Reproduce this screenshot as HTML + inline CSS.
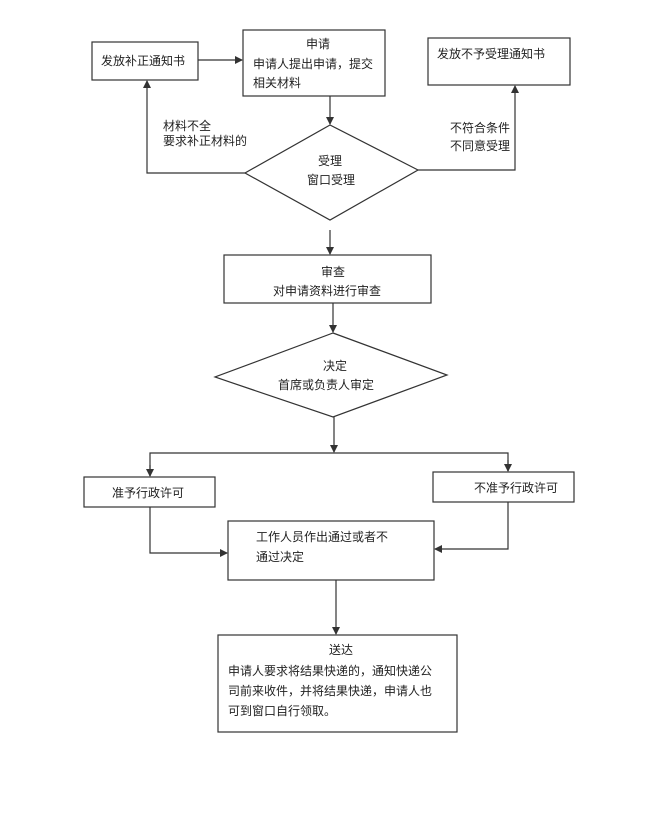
<!DOCTYPE html>
<html><head><meta charset="utf-8"><style>
html,body{margin:0;padding:0;background:#fff;}
svg{display:block}
text{font-family:"Liberation Sans","Noto Sans CJK SC",sans-serif;font-size:12px;fill:#222;}
</style></head><body>
<svg width="648" height="819" viewBox="0 0 648 819" xmlns="http://www.w3.org/2000/svg">
<defs><marker id="a" markerWidth="8" markerHeight="8" refX="7" refY="4" orient="auto" markerUnits="userSpaceOnUse"><path d="M0,0 L8,4 L0,8 Z" fill="#333"/></marker></defs>
<g fill="none" stroke="#333" stroke-width="1.2">
<rect x="92" y="42" width="106" height="38"/>
<rect x="243" y="30" width="142" height="66"/>
<rect x="428" y="38" width="142" height="47"/>
<polygon points="330,125 418,170 330,220 245,173"/>
<line x1="198" y1="60" x2="242" y2="60" marker-end="url(#a)"/>
<line x1="330" y1="96" x2="330" y2="124" marker-end="url(#a)"/>
<polyline points="245,173 147,173 147,81" marker-end="url(#a)"/>
<polyline points="418,170 515,170 515,86" marker-end="url(#a)"/>
<line x1="330" y1="230" x2="330" y2="254" marker-end="url(#a)"/>
<rect x="224" y="255" width="207" height="48"/>
<line x1="333" y1="303" x2="333" y2="332" marker-end="url(#a)"/>
<polygon points="333,333 447,375 333,417 215,377"/>
<line x1="334" y1="417" x2="334" y2="452" marker-end="url(#a)"/>
<polyline points="150,476 150,453 508,453 508,471"/>
<line x1="150" y1="465" x2="150" y2="476" marker-end="url(#a)"/>
<line x1="508" y1="460" x2="508" y2="471" marker-end="url(#a)"/>
<rect x="84" y="477" width="131" height="30"/>
<rect x="433" y="472" width="141" height="30"/>
<rect x="228" y="521" width="206" height="59"/>
<polyline points="150,507 150,553 227,553" marker-end="url(#a)"/>
<polyline points="508,502 508,549 435,549" marker-end="url(#a)"/>
<line x1="336" y1="580" x2="336" y2="634" marker-end="url(#a)"/>
<rect x="218" y="635" width="239" height="97"/>
</g>
<text x="101" y="65">发放补正通知书</text>
<text x="306" y="48">申请</text>
<text x="253" y="68">申请人提出申请，提交</text>
<text x="253" y="87">相关材料</text>
<text x="437" y="58">发放不予受理通知书</text>
<text x="163" y="130">材料不全</text>
<text x="163" y="145">要求补正材料的</text>
<text x="450" y="132">不符合条件</text>
<text x="450" y="150">不同意受理</text>
<text x="318" y="165">受理</text>
<text x="307" y="184">窗口受理</text>
<text x="321" y="276">审查</text>
<text x="273" y="295">对申请资料进行审查</text>
<text x="323" y="370">决定</text>
<text x="278" y="389">首席或负责人审定</text>
<text x="112" y="497">准予行政许可</text>
<text x="474" y="492">不准予行政许可</text>
<text x="256" y="541">工作人员作出通过或者不</text>
<text x="256" y="561">通过决定</text>
<text x="329" y="654">送达</text>
<text x="228" y="675">申请人要求将结果快递的，通知快递公</text>
<text x="228" y="695">司前来收件，并将结果快递，申请人也</text>
<text x="228" y="715">可到窗口自行领取。</text>
</svg>
</body></html>
